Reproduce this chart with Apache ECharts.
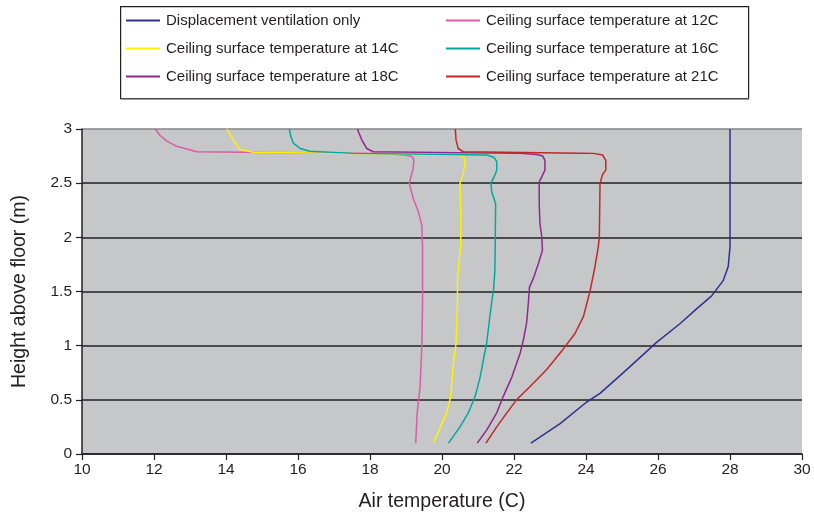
<!DOCTYPE html>
<html>
<head>
<meta charset="utf-8">
<script src="https://cdn.jsdelivr.net/npm/echarts@6/dist/echarts.min.js"></script>
<style>html,body{margin:0;padding:0;background:#fff;}#c{width:814px;height:517px;}</style>
</head>
<body>
<div id="c"></div>
<script>
// Series names
const seriesNames = [
  'Displacement ventilation only',
  'Ceiling surface temperature at 12C',
  'Ceiling surface temperature at 14C',
  'Ceiling surface temperature at 16C',
  'Ceiling surface temperature at 18C',
  'Ceiling surface temperature at 21C'
];
// [air temperature (C), height (m)]
const displacement = [[22.47,0.1],[23.28,0.28],[24.02,0.48],[24.39,0.56],[25.2,0.8],[25.96,1.03],[26.6,1.2],[27.07,1.34],[27.49,1.46],[27.81,1.6],[27.95,1.73],[28.0,1.91],[28.0,3.0]];
const ceiling12 = [[19.27,0.1],[19.31,0.38],[19.39,0.62],[19.44,1.0],[19.46,1.4],[19.46,1.91],[19.44,2.11],[19.34,2.24],[19.2,2.36],[19.09,2.5],[19.19,2.62],[19.22,2.71],[19.17,2.745],[19.0,2.76],[18.28,2.775],[15.87,2.78],[13.19,2.79],[12.63,2.84],[12.35,2.89],[12.17,2.94],[12.03,3.0]];
const ceiling14 = [[19.76,0.1],[20.13,0.38],[20.24,0.53],[20.31,0.81],[20.39,1.02],[20.43,1.4],[20.43,1.61],[20.48,1.79],[20.52,1.91],[20.52,2.22],[20.5,2.5],[20.59,2.58],[20.64,2.7],[20.61,2.74],[20.45,2.76],[17.17,2.775],[14.76,2.785],[14.39,2.81],[14.2,2.9],[14.07,2.975],[14.02,3.0]];
const ceiling16 = [[20.18,0.1],[20.5,0.25],[20.73,0.38],[20.92,0.53],[21.06,0.71],[21.15,0.87],[21.24,1.02],[21.33,1.27],[21.38,1.4],[21.43,1.51],[21.47,1.7],[21.49,2.31],[21.38,2.42],[21.36,2.5],[21.45,2.56],[21.52,2.62],[21.52,2.7],[21.44,2.74],[21.24,2.76],[17.54,2.775],[16.33,2.795],[16.06,2.82],[15.87,2.87],[15.8,2.93],[15.76,3.0]];
const ceiling18 = [[20.98,0.1],[21.24,0.22],[21.52,0.38],[21.7,0.53],[21.94,0.71],[22.17,0.93],[22.26,1.05],[22.35,1.21],[22.4,1.4],[22.43,1.54],[22.56,1.64],[22.68,1.76],[22.79,1.88],[22.77,2.01],[22.72,2.13],[22.7,2.31],[22.7,2.51],[22.86,2.62],[22.86,2.71],[22.8,2.75],[22.63,2.765],[22.17,2.775],[18.09,2.79],[17.91,2.82],[17.77,2.9],[17.68,2.975],[17.65,3.0]];
const ceiling21 = [[21.22,0.1],[21.52,0.25],[21.8,0.38],[22.07,0.5],[22.44,0.62],[22.91,0.78],[23.37,0.97],[23.69,1.11],[23.93,1.27],[24.11,1.5],[24.25,1.73],[24.34,1.91],[24.37,2.0],[24.39,2.5],[24.46,2.58],[24.55,2.62],[24.55,2.71],[24.46,2.76],[24.2,2.775],[23.83,2.777],[20.59,2.79],[20.45,2.82],[20.39,2.9],[20.37,3.0]];
const xTicks = [10,12,14,16,18,20,22,24,26,28,30];
const yTicks = [0,0.5,1,1.5,2,2.5,3];

const colors = ['#2E3192','#D95BAA','#FFF200','#00A99D','#92278F','#C1272D'];
const allData = [displacement, ceiling12, ceiling14, ceiling16, ceiling18, ceiling21];

const chart = echarts.init(document.getElementById('c'), null, {renderer:'canvas'});
const font = '"Liberation Sans", Arial, sans-serif';
const txt = '#231F20';

const legendCommon = {orient: 'vertical', top: 13, padding: 0, icon: 'rect',
  itemWidth: 34, itemHeight: 2, itemGap: 13, selectedMode: false,
  textStyle: {fontSize: 15, color: txt, fontFamily: font, padding: [0, 0, 0, 1]}};

const option = {
  animation: false,
  textStyle: {fontFamily: font},
  color: colors,
  grid: {left: 82, right: 12, top: 129, bottom: 63, show: true, backgroundColor: '#C6C7C9', borderWidth: 0},
  legend: [
    Object.assign({data: [seriesNames[0], seriesNames[2], seriesNames[4]], left: 126}, legendCommon),
    Object.assign({data: [seriesNames[1], seriesNames[3], seriesNames[5]], left: 446}, legendCommon)
  ],
  graphic: [
    {type: 'rect', left: 120, top: 6, z: -1, shape: {width: 628, height: 92}, style: {fill: '#fff', stroke: '#231F20', lineWidth: 1.2}},
    {type: 'line', shape: {x1: 121, y1: 99, x2: 749, y2: 99}, style: {stroke: '#777', lineWidth: 1.2}}
  ],
  xAxis: {
    type: 'value', min: 10, max: 30, interval: 2,
    name: 'Air temperature (C)', nameLocation: 'middle', nameGap: 38,
    nameTextStyle: {fontSize: 19.5, color: txt, fontFamily: font},
    axisLine: {lineStyle: {color: txt, width: 1.5}},
    axisTick: {show: true, length: 6, lineStyle: {color: txt, width: 1.2}},
    axisLabel: {fontSize: 15.5, color: txt, margin: 8, formatter: v => xTicks.includes(v) ? String(v) : ''},
    splitLine: {show: false}
  },
  yAxis: {
    type: 'value', min: 0, max: 3, interval: 0.5,
    name: 'Height above floor (m)', nameLocation: 'middle', nameGap: 52, nameRotate: 90,
    nameTextStyle: {fontSize: 19.5, color: txt, fontFamily: font},
    axisLine: {show: true, lineStyle: {color: txt, width: 1.5}},
    axisTick: {show: true, length: 6, lineStyle: {color: txt, width: 1.2}},
    axisLabel: {fontSize: 15.5, color: txt, margin: 10, formatter: v => yTicks.includes(v) ? String(v) : ''},
    splitLine: {show: true, lineStyle: {color: ['#231F20','#231F20','#231F20','#231F20','#231F20','#231F20','#858585'], width: 1.6}}
  },
  series: allData.map((d, i) => ({
    name: seriesNames[i], type: 'line', data: d, showSymbol: false, symbol: 'none',
    lineStyle: {width: 1.5, color: colors[i]}, itemStyle: {color: colors[i]}, z: 2 + i, smooth: false
  }))
};
chart.setOption(option);
</script>
</body>
</html>
